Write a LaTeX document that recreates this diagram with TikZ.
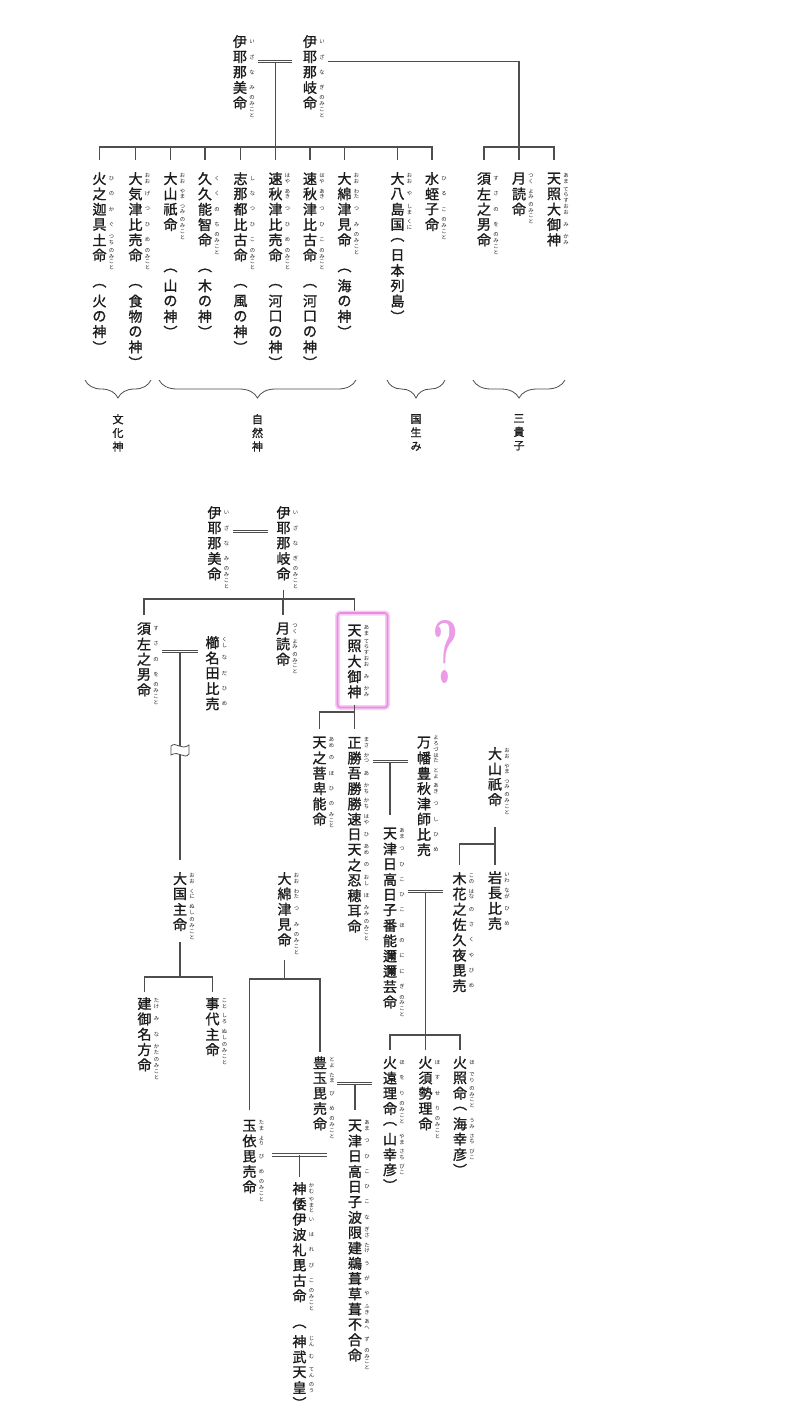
\documentclass[tikz,border=0pt]{standalone}
\usepackage{fontspec}
\usetikzlibrary{calc,decorations.pathreplacing}
\newfontfamily\jpfont{Noto Sans CJK JP}[FakeBold=1.3]
\newfontfamily\jpruby{Noto Sans CJK JP}
\definecolor{kamiText}{HTML}{1C1C1C}
\definecolor{lineGray}{HTML}{4E4E4E}
\definecolor{hiliteSoft}{HTML}{F8CDF4}
\definecolor{hiliteDeep}{HTML}{E98BE3}
\definecolor{askPink}{HTML}{EC9BE6}

\newlength\tatepitch \setlength\tatepitch{15.3pt}
\newlength\tatewd \setlength\tatewd{14pt}
\newlength\rubypitch \setlength\rubypitch{5.8pt}
\newlength\rubywd \setlength\rubywd{6pt}
\newcommand\kanjisize{\fontsize{14pt}{15pt}\selectfont}
\newcommand\rubysize{\jpruby\fontsize{5.3pt}{6pt}\selectfont}

% one cell of vertical text: kanji, ruby on its right
\newcommand\tatecell[2]{%
  \hbox{%
    \vbox to\tatepitch{\vss\hbox to\tatewd{\hss\kanjisize#1\hss}\vss}%
    \rlap{\hskip2pt\vbox to\tatepitch{\vskip0pt plus1fil\rubycol{#2}\vss}}%
  }}

\ExplSyntaxOn
\cs_new_protected:Npn \__tate_pair:w #1 / #2 \q_stop { \tatecell {#1} {#2} }
\NewDocumentCommand \tate { m }
  { \vbox:n { \offinterlineskip \clist_map_inline:nn {#1} { \__tate_pair:w ##1 \q_stop } } }
\NewDocumentCommand \rubycol { m }
  {
    \vbox:n
      {
        \offinterlineskip
        \tl_map_inline:nn {#1}
          { \vbox_to_ht:nn { \rubypitch } { \vss \hbox_to_wd:nn { \rubywd } { \hss \rubysize ##1 \hss } \vss } }
      }
  }
\ExplSyntaxOff

\begin{document}
\begin{tikzpicture}[
  x=1pt, y=-1pt,
  font=\jpfont,
  kami/.style={anchor=north, inner sep=0pt, outer sep=0pt, text=kamiText},
  tag/.style={anchor=north, align=center, inner sep=0pt, text=kamiText,
    font=\jpfont\fontsize{11pt}{13.6pt}\selectfont},
  edge/.style={draw=lineGray, line width=1.1pt},
  wed/.style={draw=lineGray, line width=0.9pt, double=white, double distance=1.8pt},
  kakko/.style={draw=lineGray, line width=0.8pt, decorate,
    decoration={brace, amplitude=18pt}},
  hiliteGlow/.style={draw=hiliteSoft, line width=5pt, rounded corners=3pt},
  hiliteLine/.style={draw=hiliteDeep, line width=1.6pt, rounded corners=3pt},
  ask/.style={text=askPink, font=\rmfamily\bfseries\fontsize{90pt}{90pt}\selectfont,
    inner sep=0pt, xscale=0.55, transform shape}
]
  \fill[white] (0,0) rectangle (800,1422);

  % first tree
  \node[kami] (izanami1) at (240,34) {\tate{伊/い,耶/ざ,那/な,美/み,命/のみこと}};
  \node[kami] (izanagi1) at (310,34) {\tate{伊/い,耶/ざ,那/な,岐/ぎ,命/のみこと}};

  \node[kami] (kagutsuchi) at (99.5,171) {\tate{火/ひ,之/の,迦/か,具/ぐ,土/つち,命/のみこと,/,︵/,火/,の/,神/,︶/}};
  \node[kami] (oogetsuhime) at (135.5,171) {\tate{大/おお,気/げ,津/つ,比/ひ,売/め,命/のみこと,/,︵/,食/,物/,の/,神/,︶/}};
  \node[kami] (ooyamatsumi1) at (170.5,171) {\tate{大/おお,山/やま,祇/つみ,命/のみこと,/,/,︵/,山/,の/,神/,︶/}};
  \node[kami] (kukunochi) at (205,171) {\tate{久/く,久/く,能/の,智/ち,命/のみこと,/,︵/,木/,の/,神/,︶/}};
  \node[kami] (shinatsuhiko) at (240.5,171) {\tate{志/し,那/な,都/つ,比/ひ,古/こ,命/のみこと,/,︵/,風/,の/,神/,︶/}};
  \node[kami] (hayaakitsuhime) at (275.5,171) {\tate{速/はや,秋/あき,津/つ,比/ひ,売/め,命/のみこと,/,︵/,河/,口/,の/,神/,︶/}};
  \node[kami] (hayaakitsuhiko) at (310,171) {\tate{速/はや,秋/あき,津/つ,比/ひ,古/こ,命/のみこと,/,︵/,河/,口/,の/,神/,︶/}};
  \node[kami] (oowatatsumi1) at (344.5,171) {\tate{大/おお,綿/わた,津/つ,見/み,命/のみこと,/,︵/,海/,の/,神/,︶/}};
  \node[kami] (ooyashima) at (397.5,171) {\tate{大/おお,八/や,島/しま,国/くに,︵/,日/,本/,列/,島/,︶/}};
  \node[kami] (hiruko) at (432,171) {\tate{水/ひ,蛭/る,子/こ,命/のみこと}};
  \node[kami] (susanoo1) at (484,171) {\tate{須/す,左/さ,之/の,男/を,命/のみこと}};
  \node[kami] (tsukuyomi1) at (519,171) {\tate{月/つく,読/よみ,命/のみこと}};
  \node[kami] (amaterasu1) at (554,171) {\tate{天/あま,照/てらす,大/おお,御/み,神/かみ}};

  \coordinate (wed1) at (275.5,61.5);
  \coordinate (bar1) at (0,147);
  \draw[wed] ($(izanami1.east |- wed1)+(11,0)$) -- ($(izanagi1.west |- wed1)+(-11,0)$);
  \draw[edge] (wed1) -- ($(hayaakitsuhime.north)+(0,-11)$);
  \draw[edge] ($(kagutsuchi.north)+(0,-11)$) |- (bar1 -| hiruko.north) -- ($(hiruko.north)+(0,-11)$);
  \foreach \k in {oogetsuhime,ooyamatsumi1,kukunochi,shinatsuhiko,hayaakitsuhiko,oowatatsumi1,ooyashima}
    \draw[edge] ($(\k.north)+(0,-11)$) -- (\k.north |- bar1);
  \draw[edge] ($(izanagi1.east |- wed1)+(11,0)$) -| ($(tsukuyomi1.north)+(0,-11)$);
  \draw[edge] ($(susanoo1.north)+(0,-11)$) |- (bar1 -| amaterasu1.north) -- ($(amaterasu1.north)+(0,-11)$);

  \draw[kakko] (151,380) -- (85,380);
  \draw[kakko] (356,380) -- (159,380);
  \draw[kakko] (445,380) -- (387,380);
  \draw[kakko] (565,380) -- (473,380);
  \node[tag] (bunkashin) at (118,414) {文\\化\\神};
  \node[tag] (shizenshin) at (257.5,414) {自\\然\\神};
  \node[tag] (kuniumi) at (416,414) {国\\生\\み};
  \node[tag] (sankishi) at (519,414) {三\\貴\\子};

  % second tree
  \node[kami] (izanami2) at (214.5,505) {\tate{伊/い,耶/ざ,那/な,美/み,命/のみこと}};
  \node[kami] (izanagi2) at (283.5,505) {\tate{伊/い,耶/ざ,那/な,岐/ぎ,命/のみこと}};
  \node[kami] (susanoo2) at (144,621) {\tate{須/す,左/さ,之/の,男/を,命/のみこと}};
  \node[kami] (kushinada) at (212.5,635) {\tate{櫛/くし,名/な,田/だ,比/ひ,売/め}};
  \node[kami] (tsukuyomi2) at (283,621) {\tate{月/つく,読/よみ,命/のみこと}};
  \node[kami] (amaterasu2) at (354.5,623) {\tate{天/あま,照/てらす,大/おお,御/み,神/かみ}};
  \node[kami] (amenohohi) at (319.5,735) {\tate{天/あめ,之/の,菩/ほ,卑/ひ,能/の,命/みこと}};
  \node[kami] (oshihomimi) at (354.5,735) {\tate{正/まさ,勝/かつ,吾/あ,勝/かち,勝/かち,速/はや,日/ひ,天/あめ,之/の,忍/おし,穂/ほ,耳/みみ,命/のみこと}};
  \node[kami] (yorozuhata) at (424,735) {\tate{万/よろづ,幡/はた,豊/とよ,秋/あき,津/つ,師/し,比/ひ,売/め}};
  \node[kami] (ooyamatsumi2) at (495,746) {\tate{大/おお,山/やま,祇/つみ,命/のみこと}};
  \node[kami] (ninigi) at (390,826) {\tate{天/あま,津/つ,日/ひ,高/こ,日/ひ,子/こ,番/ほ,能/の,邇/に,邇/に,芸/ぎ,命/のみこと}};
  \node[kami] (sakuya) at (459.5,871) {\tate{木/この,花/はな,之/の,佐/さ,久/く,夜/や,毘/び,売/め}};
  \node[kami] (iwanaga) at (495,870) {\tate{岩/いわ,長/なが,比/ひ,売/め}};
  \node[kami] (ookuninushi) at (180,871) {\tate{大/おお,国/くに,主/ぬし,命/のみこと}};
  \node[kami] (oowatatsumi2) at (284.5,871) {\tate{大/おお,綿/わた,津/つ,見/み,命/のみこと}};
  \node[kami] (takeminakata) at (144.5,996) {\tate{建/たけ,御/み,名/な,方/かた,命/のみこと}};
  \node[kami] (kotoshironushi) at (212.5,996) {\tate{事/こと,代/しろ,主/ぬし,命/のみこと}};
  \node[kami] (toyotama) at (320,1055) {\tate{豊/とよ,玉/たま,毘/び,売/め,命/のみこと}};
  \node[kami] (hoori) at (390,1055) {\tate{火/ほ,遠/を,理/り,命/のみこと,︵/,山/やま,幸/さち,彦/びこ,︶/}};
  \node[kami] (hosuseri) at (425.5,1055) {\tate{火/ほ,須/す,勢/せ,理/り,命/のみこと}};
  \node[kami] (hoderi) at (460,1055) {\tate{火/ほ,照/でり,命/のみこと,︵/,海/うみ,幸/さち,彦/びこ,︶/}};
  \node[kami] (tamayori) at (249.5,1118) {\tate{玉/たま,依/より,毘/び,売/め,命/のみこと}};
  \node[kami] (ugaya) at (355,1118) {\tate{天/あま,津/つ,日/ひ,高/こ,日/ひ,子/こ,波/な,限/ぎさ,建/たけ,鵜/う,葺/が,草/や,葺/ふき,不/あへ,合/ず,命/のみこと}};
  \node[kami] (jinmu) at (299.5,1181) {\tate{神/かむ,倭/やまと,伊/い,波/は,礼/れ,毘/び,古/こ,命/のみこと,/,︵/,神/じん,武/む,天/てん,皇/のう,︶/}};

  \coordinate (wed2) at (250,531.5);
  \coordinate (bar2) at (0,599);
  \draw[wed] ($(izanami2.east |- wed2)+(11,0)$) -- ($(izanagi2.west |- wed2)+(-9,0)$);
  \draw[edge] (izanagi2.south) ++(0,8) -- (izanagi2.south |- bar2);
  \draw[edge] ($(susanoo2.north)+(0,-6)$) |- (bar2 -| amaterasu2.north) -- ($(amaterasu2.north)+(0,-10)$);
  \draw[edge] ($(tsukuyomi2.north)+(0,-6)$) -- (tsukuyomi2.north |- bar2);

  \coordinate (wed3) at (180,651.5);
  \draw[wed] ($(susanoo2.east |- wed3)+(11,0)$) -- ($(kushinada.west |- wed3)+(-8,0)$);
  \draw[edge] (wed3) -- ($(ookuninushi.north)+(0,-11)$);
  \draw[edge, line width=0.8pt, fill=white] (171,746) .. controls (176,741) and (181,751) .. (189,745)
    -- (189,754) .. controls (184,760) and (179,750) .. (171,755) -- cycle;

  \coordinate (bar4) at (0,977);
  \draw[edge] (ookuninushi.south) ++(0,10) -- (ookuninushi.south |- bar4);
  \draw[edge] ($(takeminakata.north)+(0,-4)$) |- (bar4 -| kotoshironushi.north) -- ($(kotoshironushi.north)+(0,-4)$);

  \draw[hiliteGlow] ($(amaterasu2.north west)+(-10,-10)$) rectangle ($(amaterasu2.south east)+(26,8)$);
  \draw[hiliteLine] ($(amaterasu2.north west)+(-10,-10)$) rectangle ($(amaterasu2.south east)+(26,8)$);
  \node[ask] (hatena) at (446,652) {?};

  \coordinate (bar5) at (0,712);
  \draw[edge] (amaterasu2.south) ++(0,5) -- (amaterasu2.south |- bar5);
  \draw[edge] ($(amenohohi.north)+(0,-6)$) |- (bar5 -| oshihomimi.north) -- ($(oshihomimi.north)+(0,-6)$);

  \coordinate (wed4) at (390,761.5);
  \draw[wed] ($(oshihomimi.east |- wed4)+(11.5,0)$) -- ($(yorozuhata.west |- wed4)+(-9,0)$);
  \draw[edge] (wed4) -- ($(ninigi.north)+(0,-11)$);

  \coordinate (fork1) at (0,844);
  \draw[edge] (ooyamatsumi2.south) ++(0,20) -- ($(iwanaga.north)+(0,-5)$);
  \draw[edge] (ooyamatsumi2.south |- fork1) -| ($(sakuya.north)+(0,-6)$);

  \coordinate (wed5) at (425.5,891.5);
  \coordinate (bar6) at (0,1035);
  \draw[wed] ($(ninigi.east |- wed5)+(11,0)$) -- ($(sakuya.west |- wed5)+(-10,0)$);
  \draw[edge] (wed5) -- ($(hosuseri.north)+(0,-5)$);
  \draw[edge] ($(hoori.north)+(0,-5)$) |- (bar6 -| hoderi.north) -- ($(hoderi.north)+(0,-5)$);

  \coordinate (bar7) at (0,979);
  \draw[edge] (oowatatsumi2.south) ++(0,12) -- (oowatatsumi2.south |- bar7);
  \draw[edge] ($(tamayori.north)+(0,-8)$) |- (bar7 -| toyotama.north) -- ($(toyotama.north)+(0,-3)$);

  \coordinate (wed6) at (355,1083.5);
  \draw[wed] ($(toyotama.east |- wed6)+(10,0)$) -- ($(hoori.west |- wed6)+(-11,0)$);
  \draw[edge] (wed6) -- ($(ugaya.north)+(0,-8)$);

  \coordinate (wed7) at (299.5,1155);
  \draw[wed] ($(tamayori.east |- wed7)+(15.5,0)$) -- ($(ugaya.west |- wed7)+(-21,0)$);
  \draw[edge] (wed7) -- ($(jinmu.north)+(0,-4)$);
\end{tikzpicture}
\end{document}
